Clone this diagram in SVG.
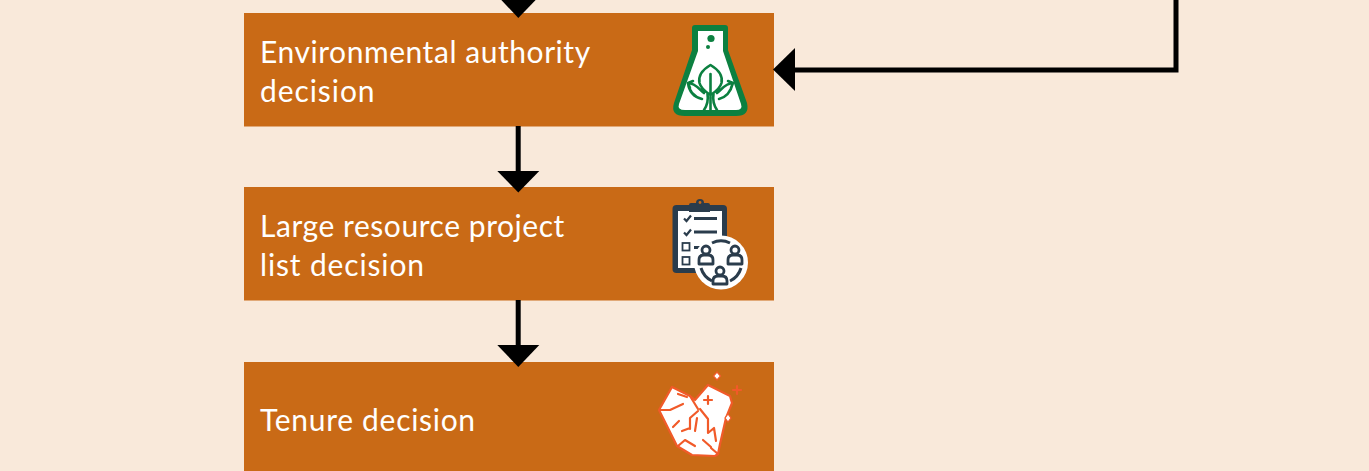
<svg xmlns="http://www.w3.org/2000/svg" width="1369" height="471" viewBox="0 0 1369 471">
<style>
.box{fill:#C96A16}
.t{font-family:"Lato","Open Sans",sans-serif;font-size:30px;fill:#fff;letter-spacing:.55px}
.c{fill:none;stroke:#000;stroke-width:5}
.h{fill:#000}
.g{fill:none;stroke:#0C8040;stroke-width:2.600;stroke-linecap:round;stroke-linejoin:round}
.dl{fill:none;stroke:#2A3C4C;stroke-width:3}
.r{fill:none;stroke:#F15A29;stroke-width:2.200;stroke-linecap:round;stroke-linejoin:round}
</style>
<rect width="1369" height="471" fill="#F9E9DA"/>
<g id="node-environmental">
<rect class="box" x="244" y="13" width="530" height="113.500"/>
<text class="t" x="260" y="62.500">Environmental authority</text>
<text class="t" x="260" y="101.500" style="letter-spacing:.92px">decision</text>
<path d="M692 28Q692 25 695 25H725Q728 25 728 28V50L747 103Q750 116 736 116H685Q670 116 674 103L692 50Z" fill="#0C8040"/>
<path d="M698 31H723V51L741 104Q743 110 736 110H685Q677 110 679 104L698 51Z" fill="#fff"/>
<circle cx="711" cy="38.500" r="3.600" fill="#0C8040"/>
<circle cx="708" cy="47" r="2" fill="#0C8040"/>
<path class="g" d="M710.500 65C702 70 698 76 699.500 83C701 89 706 92 710.500 95C715 92 720 89 721.500 83C723 76 719 70 710.500 65ZM710.500 74V110M704 110C708 104 708.500 100 707.500 94M717 110C713 104 712.500 100 713.500 94M704 93C699 89 695 83 688 83C689 91 694 97 702 99M717 93C722 89 726 83 733 83C731 91 727 97 719 99M688 83L693 81M688 83L690 88M733 83L728 81M733 83L731 88"/>
</g>
<g id="node-large-resource">
<rect class="box" x="244" y="187" width="530" height="113.500"/>
<text class="t" x="260" y="236.500">Large resource project</text>
<text class="t" x="260" y="275.500" style="letter-spacing:.85px">list decision</text>
<rect x="672.500" y="205" width="54.500" height="68" rx="4" fill="#2A3C4C"/>
<rect x="678" y="211" width="44" height="57" fill="#fff"/>
<path d="M689 205Q689 203 691 203H708Q710 203 710 205V212H689Z" fill="#2A3C4C"/>
<circle cx="700" cy="203" r="4" fill="#2A3C4C"/>
<circle cx="700" cy="202.500" r="1.400" fill="#C96A16"/>
<path d="M684 218.500L686.500 221L691 215.500M684 232.500L686.500 235L691 229.500" fill="none" stroke="#2A3C4C" stroke-width="2.200"/>
<path d="M694 218.500H717M694 232H717M694 247.500H703" stroke="#2A3C4C" stroke-width="3"/>
<rect x="682.500" y="243" width="7" height="7.500" fill="none" stroke="#2A3C4C" stroke-width="1.800"/>
<rect x="682.500" y="257" width="7" height="7.500" fill="none" stroke="#2A3C4C" stroke-width="1.800"/>
<circle cx="721" cy="262.500" r="27" fill="#fff"/>
<path class="dl" d="M712 243A21 21 0 0 1 730 243M701 268A21 21 0 0 0 712 281M741 268A21 21 0 0 1 730 281"/>
<g fill="none" stroke="#2A3C4C" stroke-width="2.800" stroke-linejoin="round">
<circle cx="706" cy="250" r="4"/><path d="M699 264V260Q699 255 704 255H708Q713 255 713 260V264Z"/>
<circle cx="735" cy="250" r="4"/><path d="M728 264V260Q728 255 733 255H737Q742 255 742 260V264Z"/>
<circle cx="720" cy="271" r="4"/><path d="M713 284V281Q713 276 718 276H722Q727 276 727 281V284Z"/>
</g>
</g>
<g id="node-tenure">
<rect class="box" x="244" y="362" width="530" height="112"/>
<text class="t" x="260" y="430.500" style="letter-spacing:.7px">Tenure decision</text>
<path d="M672 387L690 396L695 400L708 385L730 396L732 403L726 418L720 444L718 454L715 456L692 455L677 446L659 410Z" fill="#fff" stroke="#F15A29" stroke-width="2.200" stroke-linejoin="round"/>
<path class="r" d="M678 394L687 397M660 410H670L683 404M673 427L679 421M682 431L690 428M690 396L698 409M690 418L698 411M690 418V429M697 418L695 431M700 409L708 419V433L714 428L716 441M678 446L685 440L695 446M703 440L711 447M711 448L718 454M704 400H712M708 396V404"/>
<path d="M717 372l3.500 4l-3.500 4l-3.500-4ZM728 414l3 4l-3 4l-3-4Z" fill="#fff" stroke="#F15A29" stroke-width="1.200"/>
<path class="r" d="M737 386V394M733 390H741"/>
</g>
<g id="connectors">
<path class="h" d="M497.500 -4H539.500L518.300 18Z"/>
<path class="c" d="M518.200 126V172"/>
<path class="h" d="M497.300 171H539.300L518.300 192.500Z"/>
<path class="c" d="M518.200 300V346"/>
<path class="h" d="M497.300 345H539.300L518.300 367Z"/>
<path class="c" d="M1176 0V70H790"/>
<path class="h" d="M795 48V91L773 69.500Z"/>
</g>
</svg>
